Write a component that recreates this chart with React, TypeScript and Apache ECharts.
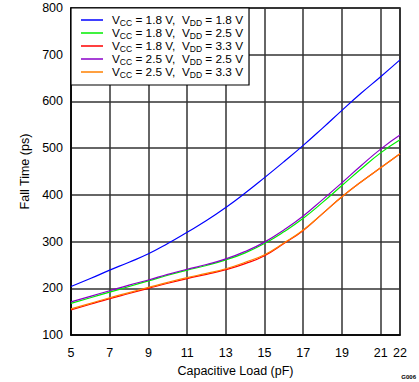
import React, { useEffect, useRef } from "react";
import * as echarts from "echarts";

const xValues = [5, 6, 7, 8, 9, 10, 11, 12, 13, 14, 15, 16, 17, 18, 19, 20, 21, 22];
const xTicks = [5, 7, 9, 11, 13, 15, 17, 19, 21, 22];
const yMin = 100;
const yMax = 800;
const yStep = 100;

const vcc18vdd18 = [204, 221, 239, 256, 274, 296, 320, 345, 373, 404, 437, 471, 506, 543, 581, 618, 653, 689];
const vcc18vdd25 = [168, 180, 192, 204, 216, 228, 239, 249, 261, 276, 296, 321, 350, 384, 420, 456, 490, 518];
const vcc18vdd33 = [154, 166, 178, 189, 200, 211, 221, 230, 240, 253, 270, 296, 324, 360, 396, 428, 458, 488];
const vcc25vdd25 = [171, 183, 195, 207, 218, 230, 241, 251, 263, 279, 299, 325, 355, 390, 426, 463, 498, 528];
const vcc25vdd33 = [156, 168, 180, 191, 202, 213, 223, 232, 242, 256, 272, 297, 325, 360, 396, 428, 458, 488];

const seriesDefs = [
  { name: "s1", vcc: "1.8", vdd: "1.8", color: "#0000ff", data: vcc18vdd18 },
  { name: "s2", vcc: "1.8", vdd: "2.5", color: "#00ee00", data: vcc18vdd25 },
  { name: "s3", vcc: "1.8", vdd: "3.3", color: "#ff0000", data: vcc18vdd33 },
  { name: "s4", vcc: "2.5", vdd: "2.5", color: "#8a00c8", data: vcc25vdd25 },
  { name: "s5", vcc: "2.5", vdd: "3.3", color: "#ff8000", data: vcc25vdd33 },
];

const FONT = "'Liberation Sans', Arial, Helvetica, sans-serif";

export default function App() {
  const ref = useRef<HTMLDivElement>(null);
  useEffect(() => {
    if (!ref.current) return;
    const chart = echarts.init(ref.current, undefined, { renderer: "svg" });
    const labelMap: Record<string, string> = {};
    seriesDefs.forEach((s) => {
      labelMap[s.name] = `{v|V}{s|CC}{v| = ${s.vcc} V,  V}{s|DD}{v| = ${s.vdd} V}`;
    });
    chart.setOption({
      animation: false,
      backgroundColor: "#ffffff",
      textStyle: { fontFamily: FONT },
      grid: {
        left: 71,
        right: 19,
        top: 8,
        bottom: 46,
        show: true,
        borderColor: "#000",
        borderWidth: 1.5,
        backgroundColor: "transparent",
      },
      legend: {
        show: true,
        orient: "vertical",
        left: 71,
        top: 8,
        backgroundColor: "#ffffff",
        borderColor: "#000",
        borderWidth: 1.2,
        borderRadius: 0,
        padding: [6, 6, 6, 10],
        itemWidth: 22,
        itemHeight: 1.5,
        itemGap: 0,
        icon: "rect",
        z: 10,
        data: seriesDefs.map((s) => s.name),
        formatter: (name: string) => labelMap[name],
        textStyle: {
          fontFamily: FONT,
          color: "#000",
          padding: [0, 0, 0, 4],
          rich: {
            v: { fontSize: 11.8, lineHeight: 14, fontFamily: FONT, color: "#000", verticalAlign: "middle" },
            s: { fontSize: 8.5, lineHeight: 9, fontFamily: FONT, color: "#000", verticalAlign: "bottom" },
          },
        },
      },
      xAxis: {
        type: "value",
        min: 5,
        max: 22,
        name: "Capacitive Load (pF)",
        nameLocation: "middle",
        nameGap: 28,
        nameTextStyle: { fontSize: 12.5, color: "#000", fontFamily: FONT },
        axisLine: { show: true, lineStyle: { color: "#000", width: 1.5 } },
        axisTick: { show: false, customValues: xTicks },
        axisLabel: {
          customValues: xTicks,
          margin: 11,
          fontSize: 12.5,
          color: "#000",
          fontFamily: FONT,
        },
        splitLine: { show: true, lineStyle: { color: "#333", width: 1.5 } },
      },
      yAxis: {
        type: "value",
        min: yMin,
        max: yMax,
        interval: yStep,
        name: "Fall Time (ps)",
        nameLocation: "middle",
        nameGap: 35,
        nameTextStyle: { fontSize: 12.5, color: "#000", fontFamily: FONT },
        axisLine: { show: true, lineStyle: { color: "#000", width: 1.5 } },
        axisTick: { show: false },
        axisLabel: { margin: 8, fontSize: 12.5, color: "#000", fontFamily: FONT },
        splitLine: { show: true, lineStyle: { color: "#333", width: 1.5 } },
      },
      series: seriesDefs.map((s) => ({
        name: s.name,
        type: "line",
        data: xValues.map((x, i) => [x, s.data[i]]),
        showSymbol: false,
        symbol: "none",
        smooth: 0.5,
        color: s.color,
        lineStyle: { color: s.color, width: 1.2 },
      })),
      graphic: [
        {
          type: "text",
          right: 3,
          bottom: 2,
          style: { text: "G006", fontSize: 6, fontWeight: "bold", fill: "#000", fontFamily: FONT },
        },
      ],
    });
    return () => chart.dispose();
  }, []);
  return (
    <div
      ref={ref}
      style={{ position: "fixed", left: 0, top: 0, width: 419, height: 382 }}
    />
  );
}
